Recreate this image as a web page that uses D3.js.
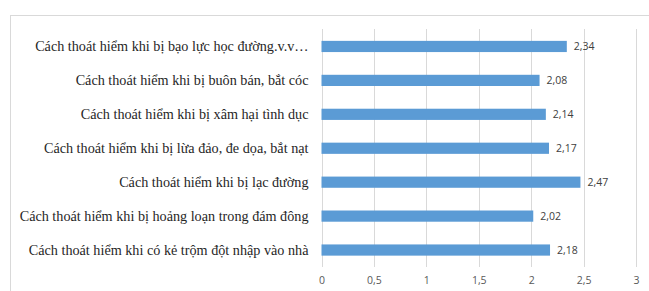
<!DOCTYPE html>
<html><head><meta charset="utf-8">
<script src="https://cdn.jsdelivr.net/npm/d3@7"></script>
<style>body{margin:0;background:#fff;}svg{display:block;}</style>
</head><body>
<script>
const categories = [
  "Cách thoát hiểm khi bị bạo lực học đường.v.v…",
  "Cách thoát hiểm khi bị buôn bán, bắt cóc",
  "Cách thoát hiểm khi bị xâm hại tình dục",
  "Cách thoát hiểm khi bị lừa đảo, đe dọa, bắt nạt",
  "Cách thoát hiểm khi bị lạc đường",
  "Cách thoát hiểm khi bị hoảng loạn trong đám đông",
  "Cách thoát hiểm khi có kẻ trộm đột nhập vào nhà"
];
const values = [2.34, 2.08, 2.14, 2.17, 2.47, 2.02, 2.18];
const valueLabels = ["2,34", "2,08", "2,14", "2,17", "2,47", "2,02", "2,18"];
const tickValues = [0, 0.5, 1, 1.5, 2, 2.5, 3];
const tickLabels = ["0", "0,5", "1", "1,5", "2", "2,5", "3"];

const W = 649, H = 291;
const svg = d3.select("body").append("svg").attr("width", W).attr("height", H);

svg.append("rect").attr("x", 10.5).attr("y", 15.5).attr("width", 660).attr("height", 300)
  .attr("fill", "#fff").attr("stroke", "#d9d9d9").attr("stroke-width", 1);

const x = d3.scaleLinear().domain([0, 3]).range([321.5, 636]);
const y = d3.scaleBand().domain(categories).range([29.5, 267]).paddingInner(0.67).paddingOuter(0.335);

const grid = svg.append("g");
grid.selectAll("line").data(tickValues).join("line")
  .attr("x1", d => Math.round(x(d)) + 0.5).attr("x2", d => Math.round(x(d)) + 0.5)
  .attr("y1", 29).attr("y2", 267)
  .attr("stroke", "#d9d9d9").attr("stroke-width", 1);

const xAxis = d3.axisBottom(x).tickValues(tickValues).tickFormat((d, i) => tickLabels[i]).tickSize(0).tickPadding(0);
const gx = svg.append("g").attr("transform", "translate(0,277)").call(xAxis);
gx.select(".domain").remove();
gx.selectAll("text").attr("fill", "#595959")
  .style("font-family", '"Open Sans", sans-serif').style("font-size", "10.5px").attr("dy", "0.71em");

svg.append("g").selectAll("rect").data(values).join("rect")
  .attr("x", x(0)).attr("y", (d, i) => y(categories[i]))
  .attr("width", d => x(d) - x(0)).attr("height", y.bandwidth())
  .attr("fill", "#5b9bd5");

svg.append("g").selectAll("text").data(values).join("text")
  .attr("x", d => x(d) + 7).attr("y", (d, i) => y(categories[i]) + y.bandwidth() / 2)
  .attr("dy", "0.35em").attr("fill", "#404040")
  .style("font-family", '"Open Sans", sans-serif').style("font-size", "10.5px")
  .text((d, i) => valueLabels[i]);

const yAxis = d3.axisLeft(y).tickSize(0).tickPadding(0);
const gy = svg.append("g").attr("transform", "translate(308.5,0)").call(yAxis);
gy.select(".domain").remove();
gy.selectAll("text").attr("fill", "#262626")
  .style("font-family", '"Liberation Serif", "Times New Roman", serif').style("font-size", "14.2px");
</script>
</body></html>
